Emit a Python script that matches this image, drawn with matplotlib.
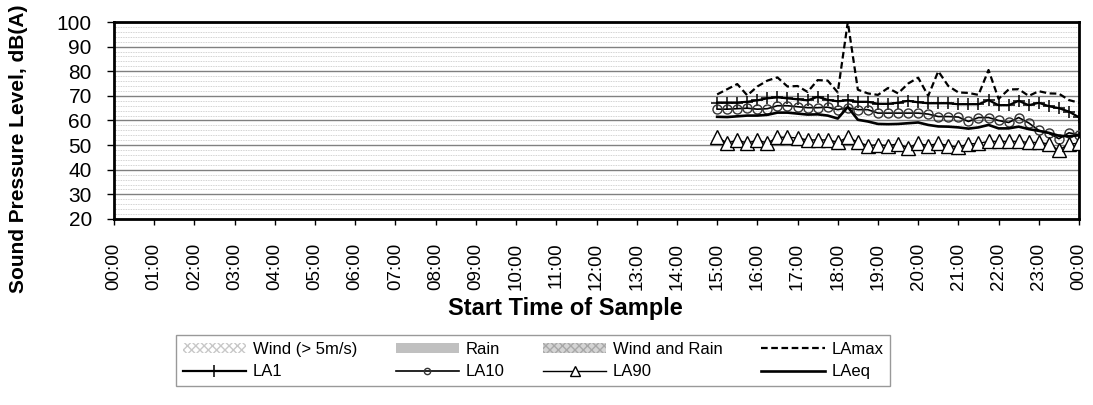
import matplotlib
matplotlib.use("Agg")
import matplotlib.pyplot as plt
from matplotlib.lines import Line2D
from matplotlib.patches import Patch
from matplotlib.ticker import MultipleLocator

plt.rcParams['font.family'] = ['Liberation Sans', 'DejaVu Sans']
plt.rcParams['hatch.linewidth'] = 1.0

# 15-minute samples, 15:00 to midnight
times = ['15:00', '15:15', '15:30', '15:45', '16:00', '16:15', '16:30', '16:45',
         '17:00', '17:15', '17:30', '17:45', '18:00', '18:15', '18:30', '18:45',
         '19:00', '19:15', '19:30', '19:45', '20:00', '20:15', '20:30', '20:45',
         '21:00', '21:15', '21:30', '21:45', '22:00', '22:15', '22:30', '22:45',
         '23:00', '23:15', '23:30', '23:45', '24:00']

la_max = [70.6, 72.7, 74.8, 70.2, 73.8, 76.2, 77.5, 73.8, 74.0, 71.6,
          76.4, 76.2, 71.4, 100.0, 72.5, 71.0, 70.4, 73.2, 71.0, 75.0,
          77.4, 70.0, 80.0, 74.0, 71.4, 71.2, 70.4, 80.5, 68.8, 72.6,
          72.7, 70.0, 71.9, 71.0, 70.9, 68.3, 67.2]
la_1 = [67.3, 67.3, 67.3, 67.6, 68.2, 69.0, 69.4, 69.0, 68.6, 68.2,
        69.6, 68.4, 67.8, 68.2, 67.6, 67.6, 66.8, 66.8, 67.2, 68.0,
        67.4, 67.0, 67.0, 67.0, 66.6, 66.6, 66.6, 68.3, 66.2, 66.2,
        68.0, 66.2, 67.2, 65.8, 65.0, 63.6, 61.3]
la_10 = [64.6, 64.6, 64.8, 65.0, 64.6, 64.8, 66.0, 66.0, 65.6, 65.2,
         65.2, 65.4, 64.4, 65.2, 64.4, 64.4, 63.0, 63.0, 63.0, 63.0,
         63.0, 62.6, 61.6, 61.6, 61.4, 59.6, 61.2, 61.2, 60.0, 59.2,
         61.2, 59.0, 56.0, 54.8, 52.6, 55.0, 54.2]
la_90 = [53.3, 50.8, 52.1, 50.8, 52.1, 50.8, 53.2, 53.2, 52.9, 52.1,
         52.1, 52.1, 51.2, 53.2, 51.2, 49.8, 50.2, 49.8, 50.5, 48.9,
         50.7, 49.8, 50.7, 49.8, 49.1, 50.5, 50.7, 51.5, 51.5, 51.5,
         51.5, 51.1, 51.1, 50.5, 47.9, 50.5, 50.7]
la_eq = [61.5, 61.4, 61.7, 62.0, 62.0, 62.3, 63.2, 63.2, 62.8, 62.4,
         62.5, 62.0, 60.8, 65.5, 60.3, 59.6, 58.6, 58.5, 58.6, 58.9,
         59.2, 58.2, 57.6, 57.5, 57.2, 56.7, 57.2, 58.2, 56.8, 56.8,
         57.5, 56.5, 55.8, 55.0, 53.8, 53.6, 54.0]

hour_labels = ['%02d:00' % (h % 24) for h in range(25)]

# hours since midnight
x = [int(t[:2]) + int(t[3:]) / 60 for t in times]

fig = plt.figure(figsize=(10.93, 4.05), dpi=100)
ax = fig.add_axes([114 / 1093, 1 - 219 / 405, 965 / 1093, 197 / 405])

ax.plot(x, la_max, color='black', lw=1.6, ls=(0, (3, 1.6)), zorder=5)
ax.plot(x, la_1, color='black', lw=1.6, marker='+', ms=9, mew=1.1, zorder=4)
ax.plot(x, la_10, color='black', lw=1.2, marker='o', ms=6.5, mfc='none',
        mec='#333333', mew=1.0, zorder=4)
ax.plot(x, la_eq, color='black', lw=1.9, zorder=4)
ax.plot(x, la_90, color='black', lw=1.0, marker='^', ms=10, mfc='white',
        mec='black', mew=1.0, zorder=6)

ax.set_xlim(0, 24)
ax.set_ylim(20, 100)
ax.set_xticks(range(25))
ax.set_xticklabels(hour_labels, rotation=90, fontsize=13.5)
ax.yaxis.set_major_locator(MultipleLocator(10))
ax.yaxis.set_minor_locator(MultipleLocator(2))
ax.tick_params(axis='y', which='major', labelsize=15, direction='out',
               length=5, width=1, pad=11)
ax.tick_params(axis='y', which='minor', length=0)
ax.tick_params(axis='x', direction='out', length=4, width=1, pad=13)

ax.grid(which='major', axis='y', color='#808080', lw=1.0)
ax.grid(which='minor', axis='y', color='#c4c4c4', lw=0.6, ls=(0, (1, 1)))
ax.set_axisbelow(True)
for sp in ax.spines.values():
    sp.set_linewidth(2.0)
    sp.set_color('black')

fig.text(19 / 1093, 1 - 149 / 405, 'Sound Pressure Level, dB(A)', rotation=90,
         ha='center', va='center', fontsize=15, fontweight='bold')
fig.text(565 / 1093, 1 - 308 / 405, 'Start Time of Sample',
         ha='center', va='center', fontsize=17, fontweight='bold')

# legend order is column-major with ncol=4
handles = [
    Patch(facecolor='white', edgecolor='#c8c8c8', hatch='xxxx', lw=0, label='Wind (> 5m/s)'),
    Line2D([], [], color='black', lw=1.6, marker='+', ms=9, mew=1.1, label='LA1'),
    Patch(facecolor='#c0c0c0', edgecolor='#c0c0c0', lw=0, label='Rain'),
    Line2D([], [], color='black', lw=1.2, marker='o', ms=4.5, mfc='none', mec='#333333', label='LA10'),
    Patch(facecolor='#d4d4d4', edgecolor='#a8a8a8', hatch='xxxx', lw=0, label='Wind and Rain'),
    Line2D([], [], color='black', lw=1.0, marker='^', ms=7, mfc='white', mec='black', label='LA90'),
    Line2D([], [], color='black', lw=1.6, ls=(0, (3, 1.6)), label='LAmax'),
    Line2D([], [], color='black', lw=1.9, label='LAeq'),
]
leg = fig.legend(handles=handles, ncol=4, mode='expand',
                 bbox_to_anchor=(176 / 1093, 1 - 386 / 405, 714 / 1093, 54 / 405),
                 loc='lower left', fontsize=12, frameon=True, fancybox=False,
                 edgecolor='#808080', handlelength=3.8, handleheight=0.6,
                 handletextpad=0.4, borderpad=0.4, labelspacing=0.45, borderaxespad=0)
leg.get_frame().set_linewidth(1.0)

fig.savefig('out.png', dpi=100)
